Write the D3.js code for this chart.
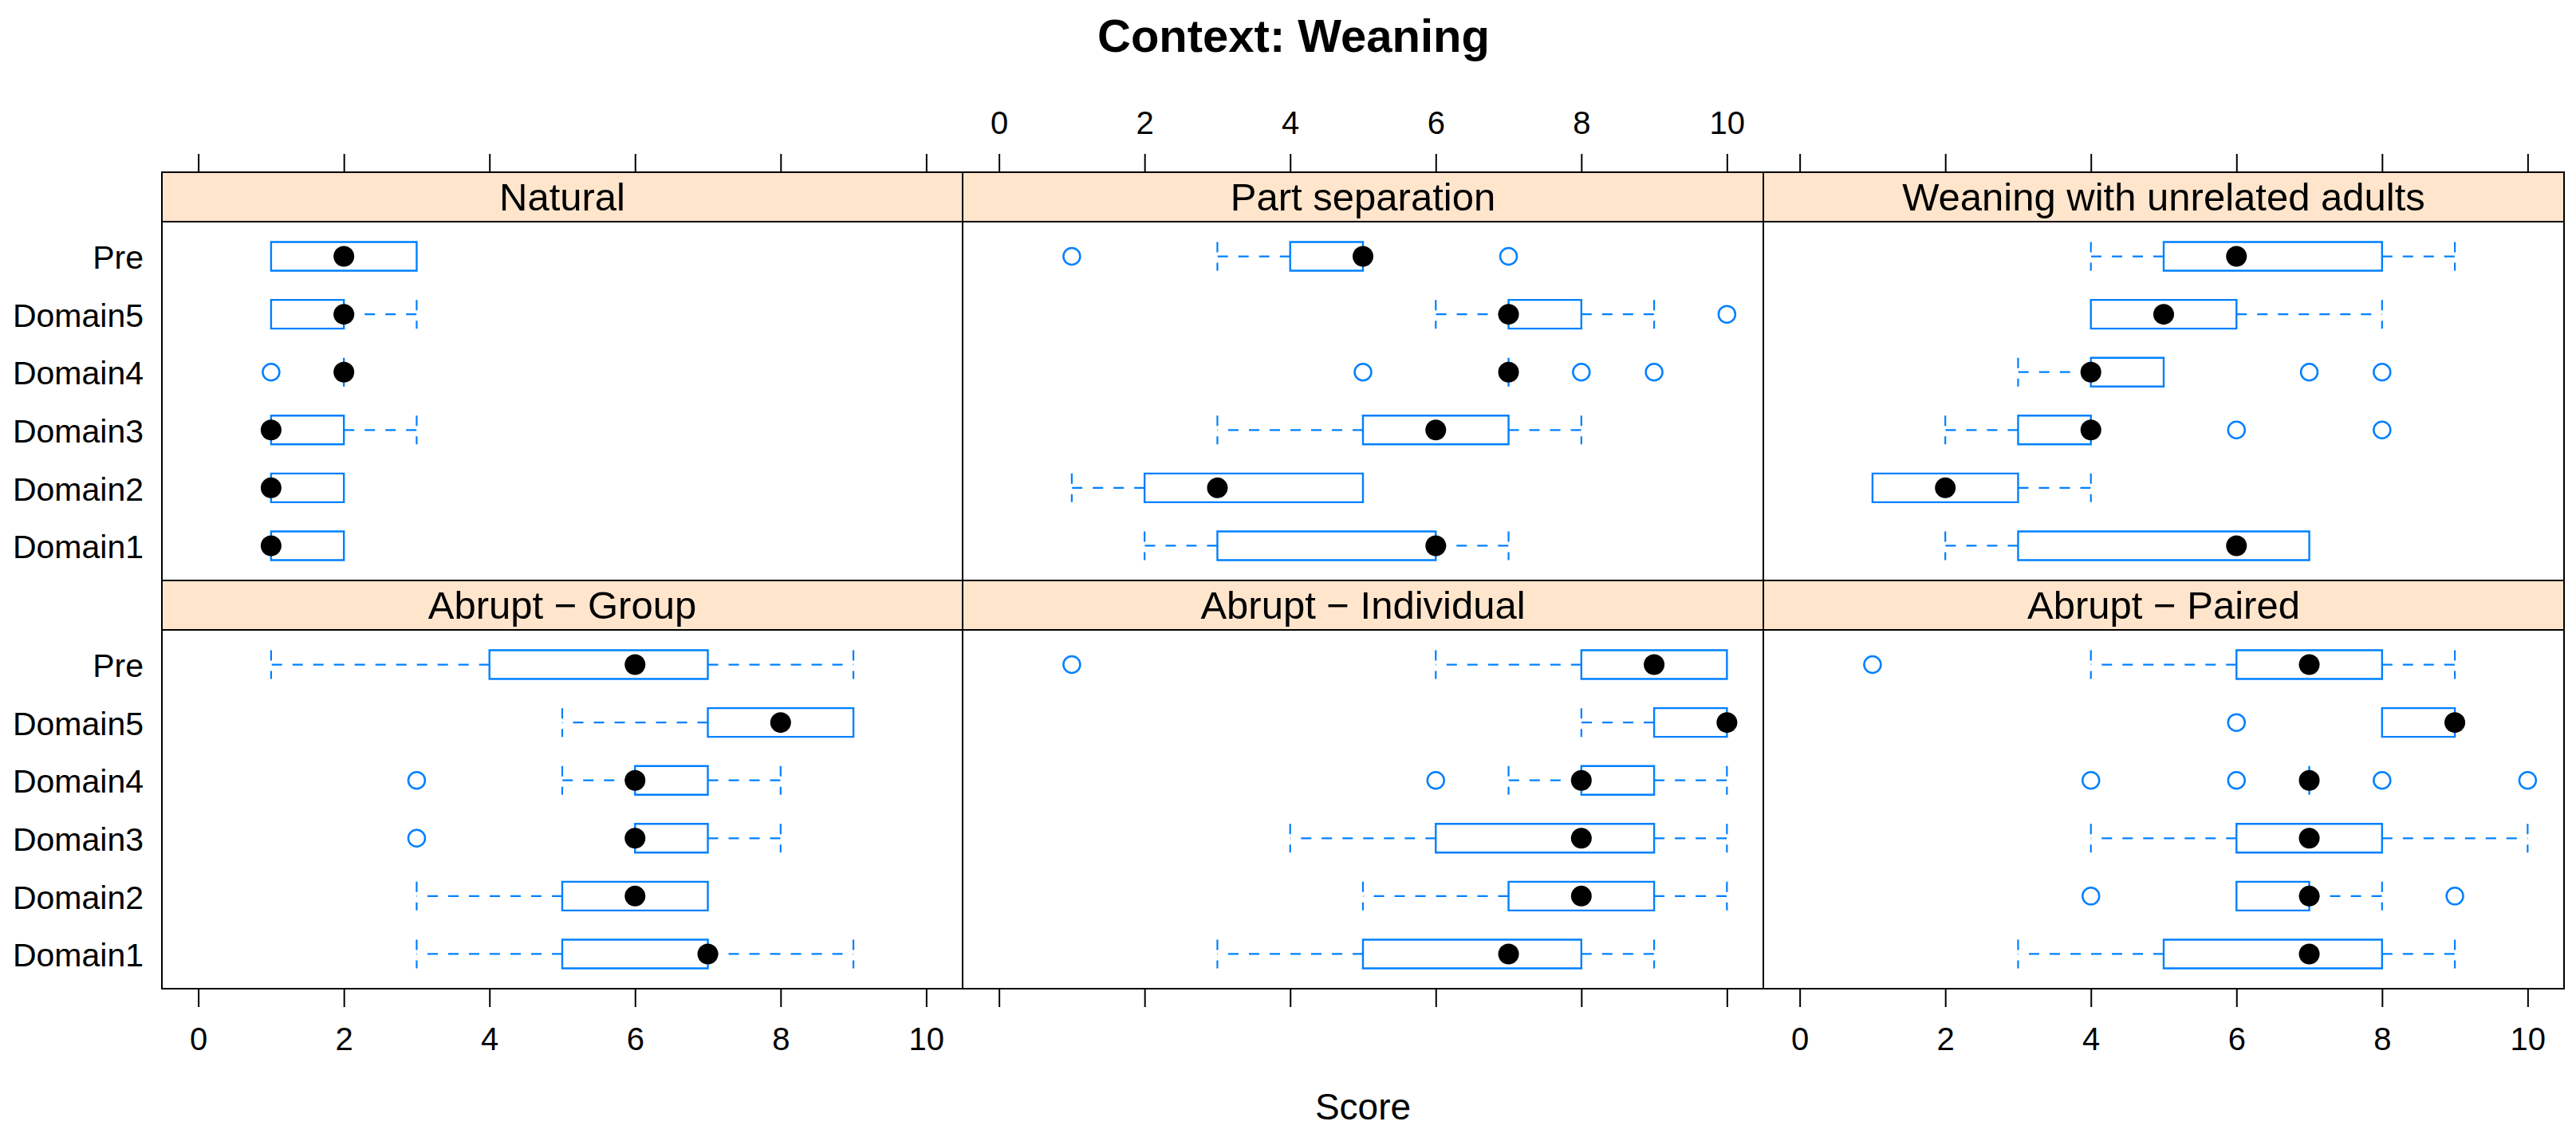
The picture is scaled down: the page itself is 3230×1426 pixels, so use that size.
<!DOCTYPE html>
<html lang="en">
  <head>
    <meta charset="utf-8">
    <title>Context: Weaning</title>
    <script src="https://d3js.org/d3.v7.js"></script>
    <style>
      body { margin: 0; background: white; }
      text { font-family: "Liberation Sans", Arial, sans-serif; }
    </style>
  </head>

  <body>

  <script>

// data: [lower whisker, Q1, median, Q3, upper whisker] per row, rows from bottom up

  const rowLabels = ["Domain1", "Domain2", "Domain3", "Domain4", "Domain5", "Pre"];

  const panelNames = ["Natural", "Part separation", "Weaning with unrelated adults",
    "Abrupt \u2212 Group", "Abrupt \u2212 Individual", "Abrupt \u2212 Paired"];

  const xTicks = [0, 2, 4, 6, 8, 10];

  const natural = [[1,1,1,2,2], [1,1,1,2,2], [1,1,1,2,3], [2,2,2,2,2], [1,1,2,2,3], [1,1,2,3,3]];
  const naturalOut = [[], [], [], [1], [], []];

  const partSep = [[2,3,6,6,7], [1,2,3,5,5], [3,5,6,7,8], [7,7,7,7,7], [6,7,7,8,9], [3,4,5,5,5]];
  const partSepOut = [[], [], [], [5,8,9], [10], [1,7]];

  const unrelated = [[2,3,6,7,7], [1,1,2,3,4], [2,3,4,4,4], [3,4,4,5,5], [4,4,5,6,8], [4,5,6,8,9]];
  const unrelatedOut = [[], [], [6,8], [7,8], [], []];

  const group = [[3,5,7,7,9], [3,5,6,7,7], [6,6,6,7,8], [5,6,6,7,8], [5,7,8,9,9], [1,4,6,7,9]];
  const groupOut = [[], [], [3], [3], [], []];

  const individual = [[3,5,7,8,9], [5,7,8,9,10], [4,6,8,9,10], [7,8,8,9,10], [8,9,10,10,10], [6,8,9,10,10]];
  const individualOut = [[], [], [], [6], [], [1]];

  const paired = [[3,5,7,8,9], [6,6,7,7,8], [4,6,7,8,10], [7,7,7,7,7], [8,8,9,9,9], [4,6,7,8,9]];
  const pairedOut = [[], [4,9], [], [4,6,8,10], [6], [1]];

  const panelStats = [natural, partSep, unrelated, group, individual, paired];
  const panelOut = [naturalOut, partSepOut, unrelatedOut, groupOut, individualOut, pairedOut];

// layout

  const w = 3230;
  const h = 1426;
  const marginLeft = 203;
  const panelW = 1004;
  const stripH = 62;
  const panelH = 450;
  const marginTop = 216;
  const boxHalf = 18;
  const blue = "#0080ff";

  const svg = d3.select("body")
    .append("svg")
      .attr("width", w)
      .attr("height", h);

  svg.append("rect")
      .attr("width", w)
      .attr("height", h)
      .attr("fill", "white");

// title

  svg.append("text")
      .attr("x", 1622)
      .attr("y", 65)
      .attr("text-anchor", "middle")
      .attr("font-size", 58)
      .attr("font-weight", "bold")
      .text("Context: Weaning");

  function styleAxis(ax) {
    ax.select(".domain").remove();
    ax.selectAll("line")
        .attr("stroke", "black")
        .attr("stroke-width", 2);
    ax.selectAll("text")
        .attr("font-size", 40)
        .attr("font-family", "'Liberation Sans', Arial, sans-serif")
        .attr("fill", "black");
  }

  panelNames.forEach((name, i) => {
    const col = i % 3;
    const row = Math.floor(i / 3);
    const x0 = marginLeft + col * panelW;
    const y0 = marginTop + row * (stripH + panelH);

    const xScale = d3.scaleLinear()
        .domain([-0.5, 10.5])
        .range([x0, x0 + panelW]);

    const yScale = d3.scalePoint()
        .domain(rowLabels.slice().reverse())
        .range([y0 + stripH, y0 + stripH + panelH])
        .padding(0.6);

    const g = svg.append("g");

    // strip
    g.append("rect")
        .attr("x", x0)
        .attr("y", y0)
        .attr("width", panelW)
        .attr("height", stripH)
        .attr("fill", "#ffe5cc")
        .attr("stroke", "black")
        .attr("stroke-width", 2);

    g.append("text")
        .attr("x", x0 + panelW / 2)
        .attr("y", y0 + stripH / 2 + 17)
        .attr("text-anchor", "middle")
        .attr("font-size", 49)
        .text(name);

    // panel border
    g.append("rect")
        .attr("x", x0)
        .attr("y", y0 + stripH)
        .attr("width", panelW)
        .attr("height", panelH)
        .attr("fill", "none")
        .attr("stroke", "black")
        .attr("stroke-width", 2);

    // axes
    if (row === 0) {
      const ax = g.append("g")
          .attr("transform", `translate(0, ${y0})`)
          .call(d3.axisTop(xScale).tickValues(xTicks).tickSize(23).tickPadding(25)
            .tickFormat(col === 1 ? d3.format("d") : () => ""));
      styleAxis(ax);
    } else {
      const ax = g.append("g")
          .attr("transform", `translate(0, ${y0 + stripH + panelH})`)
          .call(d3.axisBottom(xScale).tickValues(xTicks).tickSize(23).tickPadding(26)
            .tickFormat(col !== 1 ? d3.format("d") : () => ""));
      styleAxis(ax);
    }

    if (col === 0) {
      const ay = g.append("g")
          .attr("transform", `translate(${x0}, 0)`)
          .call(d3.axisLeft(yScale).tickSize(0).tickPadding(23));
      ay.select(".domain").remove();
      ay.selectAll("text")
          .attr("font-size", 41)
          .attr("font-family", "'Liberation Sans', Arial, sans-serif")
          .attr("fill", "black")
          .attr("dy", "0.37em");
    }

    // boxes
    const stats = panelStats[i];
    rowLabels.forEach((lab, r) => {
      const s = stats[r];
      const cy = yScale(lab);

      // whiskers, drawn outward from the box
      [[s[1], s[0]], [s[3], s[4]]].forEach(([from, to]) => {
        if (from === to) return;
        g.append("line")
            .attr("x1", xScale(from))
            .attr("x2", xScale(to))
            .attr("y1", cy)
            .attr("y2", cy)
            .attr("stroke", blue)
            .attr("stroke-width", 2.2)
            .attr("stroke-dasharray", "13,13");
        g.append("line")
            .attr("x1", xScale(to))
            .attr("x2", xScale(to))
            .attr("y1", cy - boxHalf)
            .attr("y2", cy + boxHalf)
            .attr("stroke", blue)
            .attr("stroke-width", 2.2)
            .attr("stroke-dasharray", "13,13");
      });

      const bx1 = xScale(s[1]);
      const bx2 = xScale(s[3]);
      g.append("path")
          .attr("d", `M${bx1},${cy - boxHalf}H${bx2}V${cy + boxHalf}H${bx1}Z`)
          .attr("fill", "none")
          .attr("stroke", blue)
          .attr("stroke-width", 2.4);

      panelOut[i][r].forEach(v => {
        g.append("circle")
            .attr("cx", xScale(v))
            .attr("cy", cy)
            .attr("r", 10.5)
            .attr("fill", "none")
            .attr("stroke", blue)
            .attr("stroke-width", 2.5);
      });

      g.append("circle")
          .attr("cx", xScale(s[2]))
          .attr("cy", cy)
          .attr("r", 13)
          .attr("fill", "black");
    });
  });

// x label

  svg.append("text")
      .attr("x", marginLeft + 1.5 * panelW)
      .attr("y", 1404)
      .attr("text-anchor", "middle")
      .attr("font-size", 46)
      .text("Score");

    </script>

  </body>

</html>
